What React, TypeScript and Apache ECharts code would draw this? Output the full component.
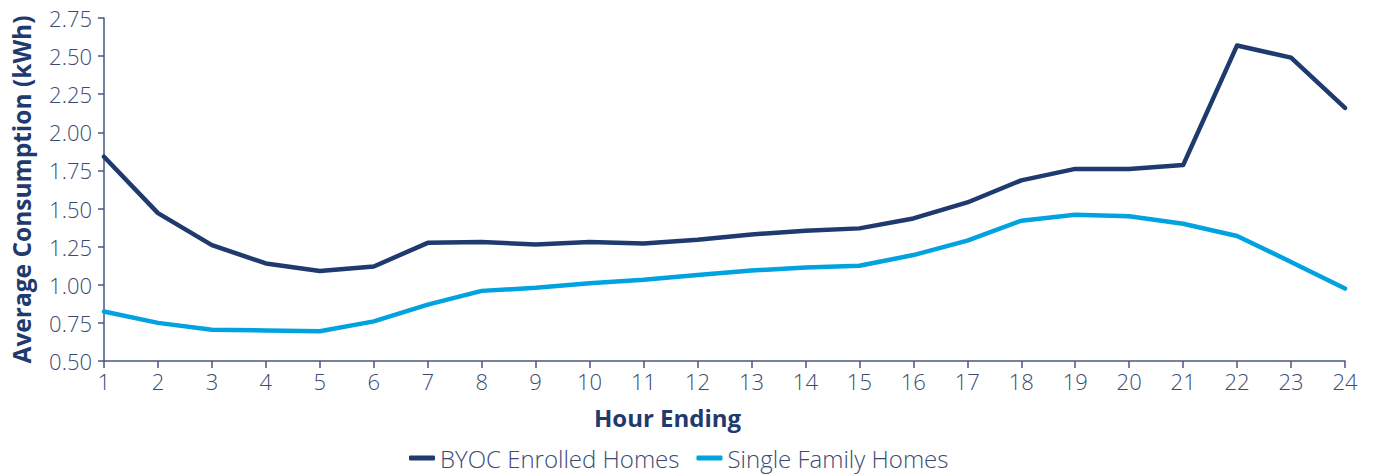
import React, { useEffect, useRef } from "react";
import * as echarts from "echarts";

const hours = ["1","2","3","4","5","6","7","8","9","10","11","12","13","14","15","16","17","18","19","20","21","22","23","24"];
const byocValues = [1.84, 1.47, 1.26, 1.14, 1.09, 1.12, 1.275, 1.28, 1.265, 1.28, 1.27, 1.295, 1.33, 1.355, 1.37, 1.435, 1.54, 1.685, 1.76, 1.76, 1.785, 2.57, 2.49, 2.16];
const singleValues = [0.825, 0.75, 0.705, 0.70, 0.695, 0.76, 0.87, 0.96, 0.98, 1.01, 1.033, 1.064, 1.093, 1.114, 1.125, 1.195, 1.29, 1.42, 1.46, 1.45, 1.40, 1.32, 1.15, 0.975];
const seriesNames = ["BYOC Enrolled Homes", "Single Family Homes"];

const navy = "#1f3a6e";
const sky = "#00a3e0";
const tickColor = "#3b4a72";
const axisColor = "#4a5680";
const font = "'Open Sans', 'Noto Sans', sans-serif";

export default function App() {
  const ref = useRef<HTMLDivElement>(null);
  useEffect(() => {
    const chart = echarts.init(ref.current!, null, { renderer: "svg" });
    chart.setOption({
      animation: false,
      grid: { left: 104, right: 28, top: 18, bottom: 115 },
      legend: {
        bottom: 1,
        left: 404,
        itemWidth: 26,
        itemHeight: 5,
        itemGap: 17,
        icon: "roundRect",
        textStyle: { fontFamily: font, fontSize: 24, color: tickColor, fontWeight: 300 },
        data: seriesNames,
      },
      xAxis: {
        type: "category",
        data: hours,
        boundaryGap: false,
        name: "Hour Ending",
        nameLocation: "middle",
        nameGap: 44,
        nameTextStyle: { fontFamily: font, fontSize: 24, fontWeight: "bold", color: navy, padding: [0, 114, 0, 0] },
        axisLine: { lineStyle: { color: axisColor, width: 1.5 } },
        axisTick: { show: true, alignWithLabel: true, length: 7, lineStyle: { color: axisColor, width: 1.5 } },
        axisLabel: { fontFamily: font, fontSize: 22, color: tickColor, fontWeight: 300, margin: 9 },
        splitLine: { show: false },
      },
      yAxis: {
        type: "value",
        min: 0.5,
        max: 2.75,
        interval: 0.25,
        name: "Average Consumption (kWh)",
        nameLocation: "middle",
        nameGap: 70,
        nameTextStyle: { fontFamily: font, fontSize: 24.5, fontWeight: "bold", color: navy },
        axisLine: { show: true, lineStyle: { color: axisColor, width: 1.5 } },
        axisTick: { show: true, length: 6, lineStyle: { color: axisColor, width: 1.5 } },
        axisLabel: {
          fontFamily: font,
          fontSize: 22,
          color: tickColor,
          fontWeight: 300,
          margin: 12,
          formatter: (v: number) => v.toFixed(2),
        },
        splitLine: { show: false },
      },
      series: [
        {
          name: seriesNames[0],
          type: "line",
          data: byocValues,
          symbol: "none",
          lineStyle: { color: navy, width: 4.5, cap: "round", join: "round" },
          itemStyle: { color: navy },
        },
        {
          name: seriesNames[1],
          type: "line",
          data: singleValues,
          symbol: "none",
          lineStyle: { color: sky, width: 4.5, cap: "round", join: "round" },
          itemStyle: { color: sky },
        },
      ],
    });
    return () => chart.dispose();
  }, []);
  return <div ref={ref} style={{ width: 1373, height: 476, position: "absolute", left: 0, top: 0 }} />;
}
